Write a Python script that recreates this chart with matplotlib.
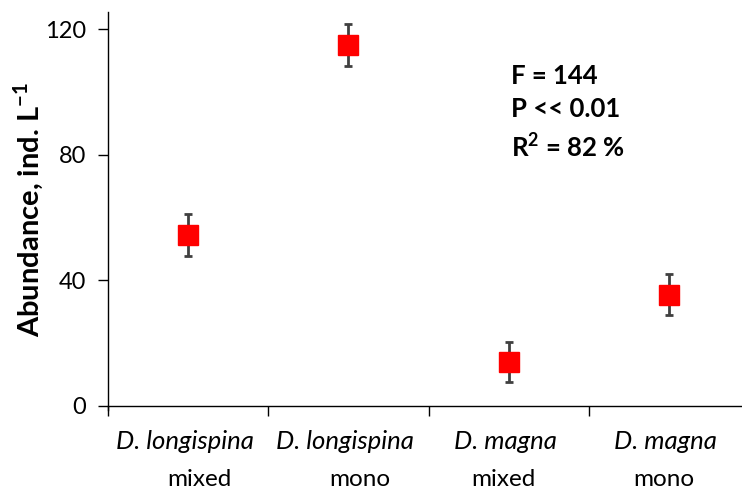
import matplotlib.pyplot as plt
import matplotlib.transforms as mtransforms
import numpy as np

plt.rcParams['font.family'] = ['Lato', 'DejaVu Sans']
plt.rcParams['mathtext.fontset'] = 'custom'
plt.rcParams['mathtext.rm'] = 'Lato'
plt.rcParams['mathtext.bf'] = 'Lato:bold'

species = ["D. longispina", "D. longispina", "D. magna", "D. magna"]
culture = ["mixed", "mono", "mixed", "mono"]
abundance = [54.5, 115.0, 14.0, 35.5]
err = [6.8, 6.6, 6.5, 6.5]

fig = plt.figure(figsize=(7.42, 4.92), dpi=100)
ax = fig.add_axes([108 / 742, 1 - 406 / 492, (749 - 108) / 742, (406 - 12) / 492])

x = np.arange(1, len(abundance) + 1)
ax.errorbar(x, abundance, yerr=err, fmt='none', ecolor='#404040',
            elinewidth=2, capsize=3, capthick=2, zorder=2)
ax.plot(x, abundance, 's', color='#ff0000', markersize=14.5, zorder=3)

ax.set_xlim(0.5, 4.5)
ax.set_ylim(0, 125.5)
ax.set_yticks([0, 40, 80, 120])
ax.set_xticks(np.arange(0.5, 4.6, 1.0))
ax.set_xticklabels([])
ax.tick_params(axis='both', direction='out', length=7, width=1, color='black')
ax.tick_params(axis='y', labelsize=17, pad=9)
for side in ('top', 'right'):
    ax.spines[side].set_visible(False)
ax.spines['left'].set_linewidth(1)
ax.spines['bottom'].set_linewidth(1)
ax.spines['left'].set_bounds(-1.3, 125.5)

ax.set_ylabel("Abundance, ind. L$^{\\mathbf{-1}}$", fontsize=21, fontweight='bold', labelpad=0)

# two-line category labels: italic species over culture type
# (the wrapped lines sit a little off-centre, as in the source chart)
trans = mtransforms.blended_transform_factory(ax.transData, ax.transAxes)
sp_shift = [-3, -3, -3, -3]
cu_shift = [11, 11, -5, -5]
for xi, sp, cu, ds, dc in zip(x, species, culture, sp_shift, cu_shift):
    t1 = trans + mtransforms.ScaledTranslation(ds / 100, 0, fig.dpi_scale_trans)
    t2 = trans + mtransforms.ScaledTranslation(dc / 100, 0, fig.dpi_scale_trans)
    ax.text(xi, -0.09, sp, transform=t1, ha='center', va='center',
            fontsize=18.5, style='italic')
    ax.text(xi, -0.186, cu, transform=t2, ha='center', va='center', fontsize=17.5)

stats = "F = 144\nP << 0.01\nR$^{\\mathbf{2}}$ = 82 %"
ax.text(511 / 742, 1 - 64 / 492, stats, transform=fig.transFigure, ha='left', va='top',
        fontsize=18.5, fontweight='bold', linespacing=1.45)

fig.savefig("out.png", dpi=100)
